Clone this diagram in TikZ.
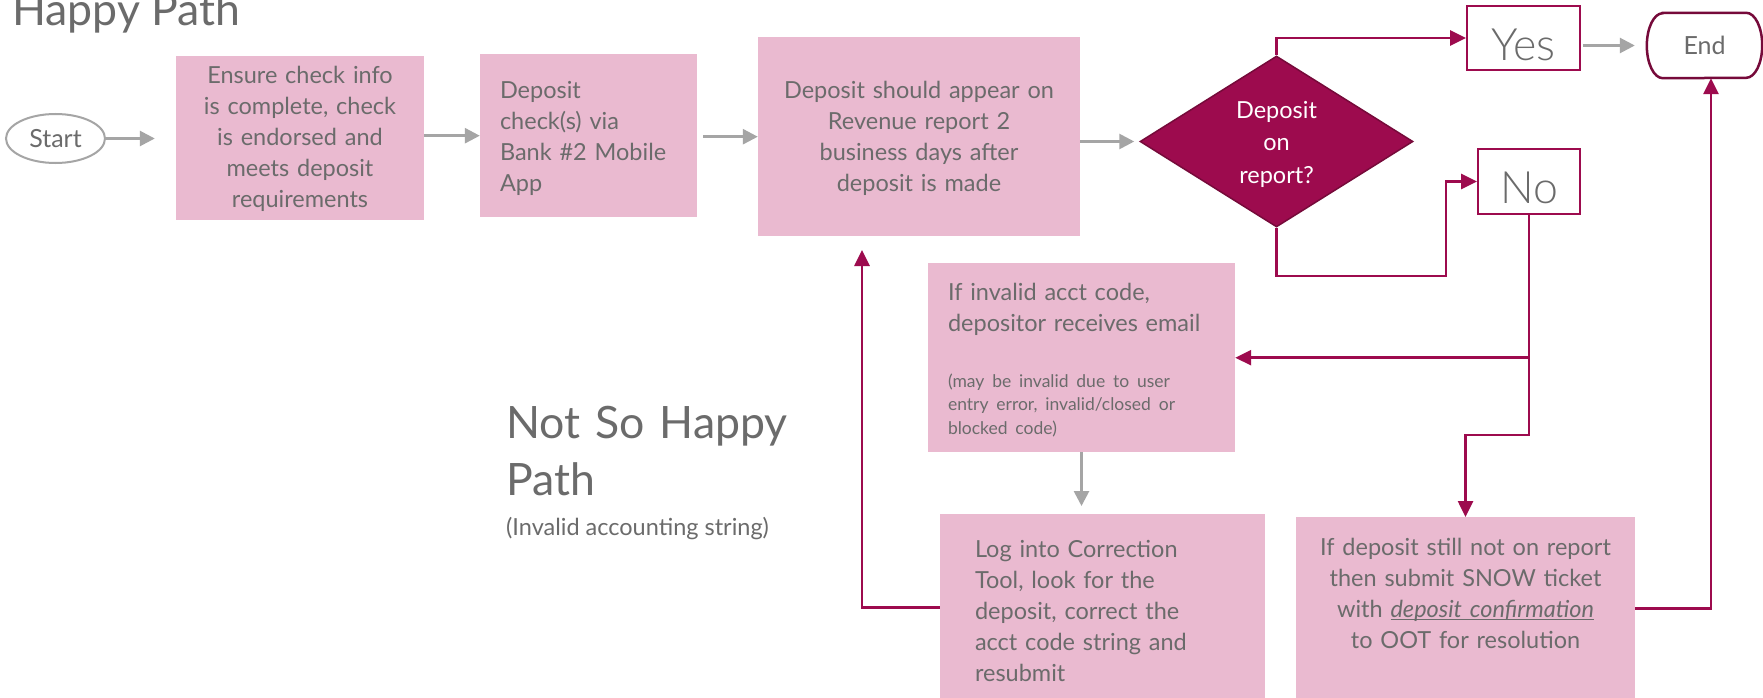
\documentclass[tikz,border=0pt]{standalone}
\usepackage{fontspec}
\setmainfont{Lato}
\newfontfamily\lightfont{Lato Light}
\usetikzlibrary{arrows.meta,shapes.geometric,calc}

\definecolor{boxpink}{HTML}{EABAD0}
\definecolor{txtgray}{HTML}{6B6B6B}
\definecolor{arrgray}{HTML}{A5A5A5}
\definecolor{wine}{HTML}{9D0B4E}
\definecolor{winedark}{HTML}{760A3A}

% underline that sits just under the baseline
\newcommand{\lineunder}[1]{\sbox0{#1}\rlap{\rule[-3pt]{\wd0}{1.3pt}}\usebox0}

\begin{document}
\begin{tikzpicture}[x=1pt,y=-1pt,
  every node/.style={text=txtgray, font=\fontsize{23.5}{31}\selectfont},
  pbox/.style={fill=boxpink, inner sep=0pt, anchor=north},
  heading/.style={inner sep=0pt, anchor=base west, font=\fontsize{44.6}{57}\selectfont},
  answer/.style={draw=wine, line width=2pt, inner sep=0pt, anchor=north,
                 font=\lightfont\fontsize{44.6}{50}\selectfont},
  grayarrow/.style={draw=arrgray, line width=2.7pt, -{Triangle[length=15pt,width=15pt]}},
  winearrow/.style={draw=wine, line width=2.7pt, -{Triangle[length=16pt,width=15pt]}},
]
\useasboundingbox (0,0) rectangle (1763,698);
\clip (0,0) rectangle (1763,698);
\fill[white] (0,0) rectangle (1763,698);

% headings
\node[heading] (happy) at (12,26) {Happy Path};
\node[heading, text width=320pt, align=left] (nothappy) at (506,438) {Not So Happy\\Path};
\node[inner sep=0pt, anchor=base west] (nothappysub) at (506,535) {(Invalid accounting string)};

% terminals
\node[ellipse, draw=arrgray, line width=2pt, minimum width=99pt, minimum height=49pt,
      inner sep=0pt, font=\fontsize{25}{30}\selectfont] (start) at (55.5,138.5) {Start};
\node[rectangle, minimum width=115pt, minimum height=65pt, inner sep=0pt,
      font=\fontsize{25}{30}\selectfont] (endn) at (1704.5,45.5) {End};
\draw[draw=winedark, line width=2.5pt]
  ($(endn.north west)+(16,0)$) -- ($(endn.north east)+(-16,0)$)
  arc[start angle=90, end angle=-90, x radius=16pt, y radius=32.5pt]
  -- ($(endn.south west)+(16,0)$)
  arc[start angle=270, end angle=90, x radius=16pt, y radius=32.5pt] -- cycle;

% process boxes
\node[pbox, text width=248pt, text height=27pt, text depth=137pt, align=center] (b1) at (300,56)
  {Ensure check info\\ is complete, check\\ is endorsed and\\ meets deposit\\ requirements};
\node[pbox, text width=217pt, text height=44pt, text depth=119pt, align=left] (b2) at (588.5,54)
  {\leftskip=20pt Deposit\\ check(s) via\\ Bank \#2 Mobile\\ App\par};
\node[pbox, text width=322pt, text height=61pt, text depth=138pt, align=center] (b3) at (919,37)
  {Deposit should appear on\\ Revenue report 2\\ business days after\\ deposit is made};
\node[pbox, text width=307pt, text height=37pt, text depth=152pt, align=left] (b4) at (1081.5,263)
  {\leftskip=20pt If invalid acct code,\\ depositor receives email\par
   \vspace{32.5pt}{\fontsize{17.5}{23.5}\selectfont (may be invalid due to user\\ entry error, invalid/closed or\\ blocked code)\par}};
\node[pbox, text width=325pt, text height=43pt, text depth=143pt, align=left] (b5) at (1102.5,514)
  {\leftskip=35pt Log into Correction\\ Tool, look for the\\ deposit, correct the\\ acct code string and\\ resubmit\par};
\node[pbox, text width=339pt, text height=38pt, text depth=144pt, align=center] (b6) at (1465.5,517)
  {If deposit still not on report\\ then submit SNOW ticket\\ with \lineunder{\itshape deposit confirmation}\\ to OOT for resolution};

% decision
\node[diamond, fill=wine, draw=winedark, line width=1.5pt, aspect=1.6,
      minimum width=273pt, minimum height=171pt, inner sep=0pt,
      text=white, font=\fontsize{23.5}{32}\selectfont, text width=110pt, align=center,
      text height=20pt, text depth=65pt] (dia) at (1276.5,141.5) {Deposit\\ on\\ report?};

% answers
\node[answer, minimum width=113pt, text height=55pt, text depth=9pt] (yes) at (1523.5,5) {Yes};
\node[answer, minimum width=102pt, text height=54pt, text depth=11pt] (no) at (1529,148) {No};

% bend points
\coordinate (nobend) at (1446,276);
\coordinate (ticketbend) at (1465.5,435);
\coordinate (fixup) at (862,250);

% happy path connectors
\draw[grayarrow] (start.east) -- ($(start.east -| b1.west)+(-21,0)$);
\draw[grayarrow] (b1.east |- b2.west) -- (b2.west);
\draw[grayarrow] ($(b2.east |- b3.west)+(6,0)$) -- (b3.west);
\draw[grayarrow] (b3.east |- dia.west) -- ($(dia.west)+(-5,0)$);
\draw[winearrow] (dia.north) |- (yes.west);
\draw[grayarrow] ($(yes.east |- endn.west)+(2,0)$) -- ($(endn.west)+(-12,0)$);

% not so happy path connectors
\draw[winearrow] (dia.south) |- (nobend) |- (no.west);
\draw[winearrow] (no.south) |- (b4.east);
\draw[winearrow] (no.south) |- (ticketbend) -- (b6.north);
\draw[winearrow] (b6.east) -| ($(endn.south)+(6.5,0)$);
\draw[grayarrow] (b4.south) -- ($(b4.south |- b5.north)+(0,-8)$);
\draw[winearrow] (b5.west) -| (fixup);
\end{tikzpicture}
\end{document}
